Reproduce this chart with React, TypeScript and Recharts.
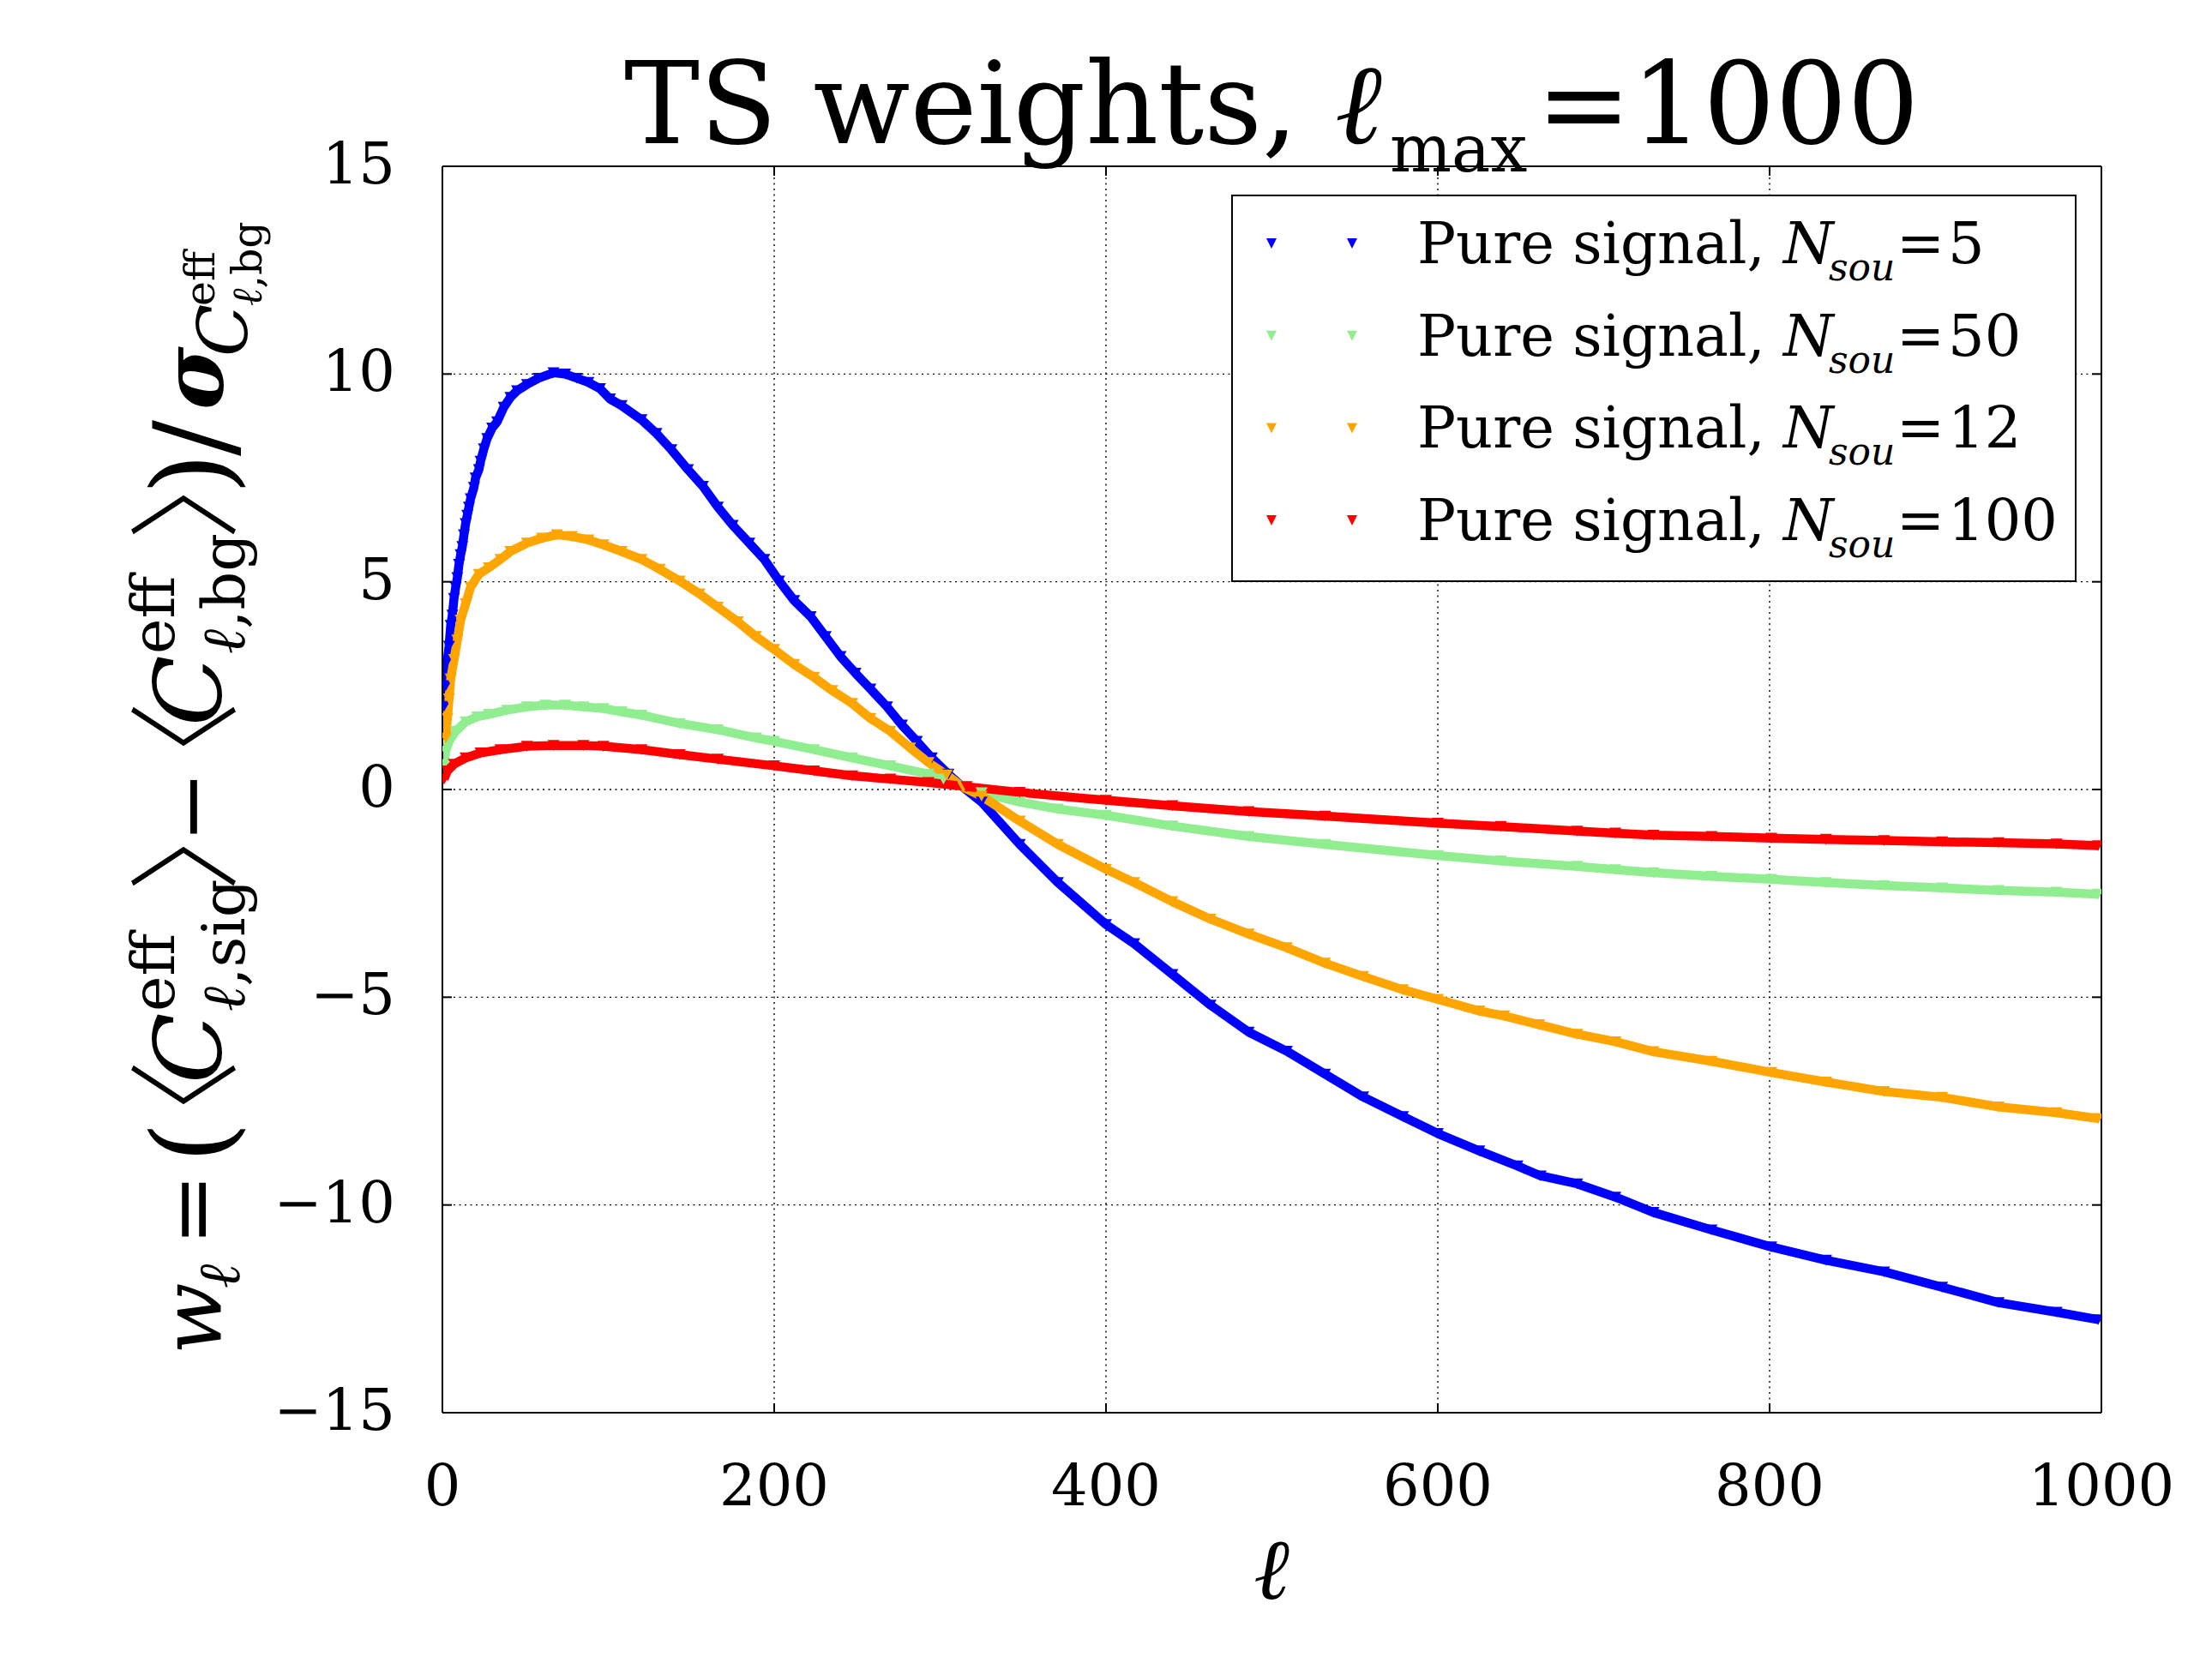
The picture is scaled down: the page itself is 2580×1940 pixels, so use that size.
import React from 'react';
import { ComposedChart, Line, XAxis, YAxis, CartesianGrid, Legend } from 'recharts';

// ---------- data ----------
const X_TICKS = [0, 200, 400, 600, 800, 1000];
const Y_TICKS = [-15, -10, -5, 0, 5, 10, 15];

const ELL_N5 = [1, 2, 3, 4, 5, 6, 7, 8, 9, 10, 11, 12, 13, 14, 15, 16, 17, 19, 20, 22, 23, 25, 27, 30, 33, 37, 41, 45, 51, 58, 67, 74, 81, 88, 95, 101, 108, 120, 129, 138, 148, 157, 166, 175, 185, 194, 203, 212, 222, 231, 240, 249, 258, 268, 277, 286, 295, 305, 314, 325, 348, 371, 400, 417, 440, 463, 486, 509, 532, 555, 579, 600, 625, 648, 662, 684, 707, 730, 765, 801, 834, 869, 904, 938, 973, 998];
const W_N5 = [2.0, 2.5, 3.1, 3.45, 3.95, 4.2, 4.6, 4.87, 5.1, 5.42, 5.65, 5.85, 6.13, 6.4, 6.6, 6.8, 7.0, 7.27, 7.5, 7.7, 7.9, 8.2, 8.45, 8.7, 8.85, 9.2, 9.44, 9.6, 9.75, 9.9, 10.03, 10.0, 9.9, 9.8, 9.65, 9.4, 9.24, 8.9, 8.57, 8.18, 7.7, 7.3, 6.8, 6.36, 5.93, 5.54, 5.02, 4.55, 4.16, 3.68, 3.2, 2.8, 2.42, 1.99, 1.55, 1.16, 0.76, 0.37, 0.05, -0.3, -1.32, -2.24, -3.25, -3.71, -4.45, -5.19, -5.84, -6.3, -6.85, -7.4, -7.87, -8.28, -8.7, -9.06, -9.3, -9.49, -9.81, -10.18, -10.6, -11.01, -11.33, -11.61, -11.98, -12.35, -12.58, -12.76];

const ELL_N50 = [1, 2, 4, 8, 14, 21, 28, 39, 51, 62, 74, 85, 97, 108, 120, 143, 166, 189, 200, 224, 247, 270, 293, 302, 314, 325, 348, 371, 400, 440, 486, 532, 600, 638, 684, 707, 730, 765, 801, 834, 869, 904, 938, 973, 998];
const W_N50 = [0.61, 0.92, 1.16, 1.4, 1.63, 1.75, 1.81, 1.91, 1.99, 2.03, 2.03, 1.99, 1.95, 1.87, 1.79, 1.59, 1.44, 1.24, 1.16, 0.96, 0.76, 0.57, 0.37, 0.25, 0.07, -0.08, -0.3, -0.47, -0.62, -0.88, -1.13, -1.32, -1.59, -1.72, -1.85, -1.93, -2.0, -2.09, -2.16, -2.24, -2.31, -2.37, -2.43, -2.47, -2.52];

const ELL_N12 = [2, 3, 4, 5, 7, 9, 11, 14, 17, 22, 28, 35, 41, 51, 60, 69, 78, 88, 97, 108, 120, 131, 143, 155, 166, 178, 189, 200, 212, 224, 235, 247, 258, 270, 282, 293, 304, 314, 325, 348, 371, 400, 417, 440, 463, 486, 509, 532, 555, 579, 600, 625, 640, 661, 684, 707, 730, 765, 801, 834, 869, 904, 938, 973, 998];
const W_N12 = [1.24, 1.71, 2.18, 2.66, 3.13, 3.6, 4.08, 4.47, 4.87, 5.18, 5.34, 5.54, 5.73, 5.93, 6.05, 6.13, 6.09, 6.01, 5.89, 5.73, 5.54, 5.3, 5.02, 4.71, 4.39, 4.04, 3.68, 3.37, 3.01, 2.7, 2.38, 2.07, 1.71, 1.4, 1.0, 0.65, 0.35, 0.05, -0.16, -0.76, -1.32, -1.92, -2.24, -2.7, -3.12, -3.48, -3.81, -4.18, -4.5, -4.82, -5.05, -5.33, -5.45, -5.66, -5.89, -6.07, -6.31, -6.54, -6.81, -7.04, -7.27, -7.41, -7.64, -7.78, -7.92];

const ELL_N100 = [1, 3, 7, 14, 23, 35, 51, 67, 85, 97, 120, 143, 166, 200, 224, 247, 270, 293, 316, 348, 400, 440, 486, 532, 600, 638, 684, 707, 730, 765, 801, 834, 869, 904, 938, 973, 998];
const W_N100 = [0.25, 0.45, 0.61, 0.76, 0.88, 0.96, 1.04, 1.06, 1.06, 1.04, 0.96, 0.84, 0.73, 0.57, 0.45, 0.33, 0.25, 0.17, 0.07, -0.07, -0.26, -0.39, -0.53, -0.64, -0.81, -0.89, -1.0, -1.05, -1.1, -1.13, -1.17, -1.2, -1.23, -1.26, -1.28, -1.31, -1.35];

const SERIES_KEYS = ['N5', 'N50', 'N12', 'N100'];
const N_LABELS = ['5', '50', '12', '100'];
const COLORS = ['#0000ff', '#90ee90', '#ffa500', '#ff0000'];
const ELLS = [ELL_N5, ELL_N50, ELL_N12, ELL_N100];
const WS = [W_N5, W_N50, W_N12, W_N100];

const seriesData = ELLS.map((ells, i) => ells.map((l, j) => ({ l, w: WS[i][j] })));

// ---------- styling ----------
const CW = 2580;
const CH = 1940;
const FONT = "'DejaVu Serif', serif";
const CJK = "'Noto Sans CJK JP', 'Noto Sans CJK SC', sans-serif";
const TICK_LEN = 11;
const TICK_FS = 67;

const fmtTick = (v: number) => (v < 0 ? `\u2212${Math.abs(v)}` : `${v}`);

const LeftTick = (p: any) => (
  <g>
    <line x1={p.x} y1={p.y} x2={p.x + TICK_LEN} y2={p.y} stroke="#000" strokeWidth={2} />
    <text x={p.x - 55} y={p.y + 20} textAnchor="end" fontFamily={FONT} fontSize={TICK_FS} fill="#000">
      {fmtTick(p.payload.value)}
    </text>
  </g>
);
const RightTick = (p: any) => (
  <line x1={p.x - TICK_LEN} y1={p.y} x2={p.x} y2={p.y} stroke="#000" strokeWidth={2} />
);
const BottomTick = (p: any) => (
  <g>
    <line x1={p.x} y1={p.y - TICK_LEN} x2={p.x} y2={p.y} stroke="#000" strokeWidth={2} />
    <text x={p.x} y={p.y + 108} textAnchor="middle" fontFamily={FONT} fontSize={TICK_FS} fill="#000">
      {fmtTick(p.payload.value)}
    </text>
  </g>
);
const TopTick = (p: any) => (
  <line x1={p.x} y1={p.y} x2={p.x} y2={p.y + TICK_LEN} stroke="#000" strokeWidth={2} />
);

const triangle = (color: string, r: number) => (p: any) => {
  const { cx, cy, index } = p;
  if (cx == null || cy == null) return <g key={`e${index}`} />;
  return (
    <path
      key={`t${index}`}
      d={`M${cx - r},${cy - r * 0.9}L${cx + r},${cy - r * 0.9}L${cx},${cy + r * 0.9}Z`}
      fill={color}
      stroke="none"
    />
  );
};

const LegendBox = (props: any) => {
  const payload: any[] = props.payload || [];
  return (
    <svg width={986} height={452} style={{ display: 'block', overflow: 'visible' }}>
      <rect x={1} y={1} width={984} height={450} fill="#fff" stroke="#000" strokeWidth={2} />
      {SERIES_KEYS.map((key, i) => {
        const item = payload.find((it: any) => it.dataKey === key || it.value === key);
        const color = (item && item.color) || COLORS[i];
        const base = 80 + i * 107.7;
        const my = base - 23;
        const tri = (mx: number) =>
          `M${mx - 6},${my - 6}L${mx + 6},${my - 6}L${mx},${my + 6}Z`;
        return (
          <g key={key}>
            <path d={tri(47)} fill={color} />
            <path d={tri(141)} fill={color} />
            <text x={217} y={base} fontFamily={FONT} fontSize={67} fill="#000">Pure signal,</text>
            <text x={644} y={base} fontFamily={FONT} fontSize={67} fontStyle="italic" fill="#000">N</text>
            <text x={697} y={base + 20} fontFamily={FONT} fontSize={44} fontStyle="italic" fill="#000">sou</text>
            <text x={776} y={base} fontFamily={FONT} fontSize={67} fill="#000">=</text>
            <text x={836} y={base} fontFamily={FONT} fontSize={67} fill="#000">{N_LABELS[i]}</text>
          </g>
        );
      })}
    </svg>
  );
};

const YLabel = () => {
  const T = (u: number, v: number, s: number, content: React.ReactNode, opts: any = {}) => (
    <text x={u} y={v} fontSize={s} fontFamily={opts.f || FONT} fontStyle={opts.it ? 'italic' : 'normal'} fontWeight={opts.w || (opts.b ? 'bold' : 'normal')} fill="#000">
      {content}
    </text>
  );
  return (
    <g transform="translate(257,0) rotate(-90)">
      {T(-1580, 0, 98, 'w', { it: true })}
      {T(-1503, 22, 68, '\u2113', { it: true })}
      {T(-1453, 0, 100, '=')}
      {T(-1357, 10, 125, '(')}
      {T(-1368, 7, 132, '\u3008', { f: CJK, w: 300 })}
      {T(-1264, 0, 108, 'C', { it: true })}
      {T(-1180, -54, 70, 'eff')}
      {T(-1180, 28, 70, <><tspan fontStyle="italic">{'\u2113'}</tspan>,sig</>)}
      {T(-1040, 7, 132, '\u3009', { f: CJK, w: 300 })}
      {T(-983, 0, 100, '\u2212')}
      {T(-950, 7, 132, '\u3008', { f: CJK, w: 300 })}
      {T(-847, 0, 108, 'C', { it: true })}
      {T(-763, -54, 70, 'eff')}
      {T(-763, 28, 70, <><tspan fontStyle="italic">{'\u2113'}</tspan>,bg</>)}
      {T(-630, 7, 132, '\u3009', { f: CJK, w: 300 })}
      {T(-577, 10, 125, ')')}
      {T(-532, 12, 125, '/')}
      {T(-478, 3, 100, '\u03C3', { it: true, b: true })}
      {T(-416, 31, 80, 'C', { it: true })}
      {T(-357, -7, 49, 'eff')}
      {T(-357, 48, 49, <><tspan fontStyle="italic">{'\u2113'}</tspan>,bg</>)}
    </g>
  );
};

export default function App() {
  return (
    <div style={{ position: 'absolute', left: 0, top: 0, width: CW, height: CH, background: '#fff' }}>
      <ComposedChart width={CW} height={CH} margin={{ top: 0, right: 0, bottom: 0, left: 0 }}>
        <CartesianGrid xAxisId="b" yAxisId="l" stroke="#000" strokeWidth={1.4} strokeDasharray="2 4.5" fill="none" />
        <XAxis
          xAxisId="b" type="number" dataKey="l" domain={[0, 1000]} ticks={X_TICKS} interval={0}
          orientation="bottom" height={292} allowDataOverflow
          axisLine={{ stroke: '#000', strokeWidth: 2 }} tickLine={false} tickSize={0} tickMargin={0}
          tick={BottomTick}
        />
        <XAxis
          xAxisId="t" type="number" dataKey="l" domain={[0, 1000]} ticks={X_TICKS} interval={0}
          orientation="top" height={194} allowDataOverflow
          axisLine={{ stroke: '#000', strokeWidth: 2 }} tickLine={false} tickSize={0} tickMargin={0}
          tick={TopTick}
        />
        <YAxis
          yAxisId="l" type="number" domain={[-15, 15]} ticks={Y_TICKS} interval={0}
          orientation="left" width={516} allowDataOverflow
          axisLine={{ stroke: '#000', strokeWidth: 2 }} tickLine={false} tickSize={0} tickMargin={0}
          tick={LeftTick}
        />
        <YAxis
          yAxisId="r" type="number" domain={[-15, 15]} ticks={Y_TICKS} interval={0}
          orientation="right" width={129} allowDataOverflow
          axisLine={{ stroke: '#000', strokeWidth: 2 }} tickLine={false} tickSize={0} tickMargin={0}
          tick={RightTick}
        />
        {SERIES_KEYS.map((key, i) => (
          <Line
            key={key}
            xAxisId="b"
            yAxisId="l"
            data={seriesData[i]}
            dataKey="w"
            name={key}
            type="linear"
            stroke={COLORS[i]}
            strokeWidth={10.5}
            strokeLinejoin="round"
            dot={triangle(COLORS[i], 7)}
            activeDot={false}
            isAnimationActive={false}
          />
        ))}
        <Legend
          layout="horizontal"
          verticalAlign="middle"
          align="center"
          content={LegendBox}
          wrapperStyle={{ left: 1436, top: 227, width: 986, height: 452 }}
        />
      </ComposedChart>
      <svg
        width={CW}
        height={CH}
        style={{ position: 'absolute', left: 0, top: 0, pointerEvents: 'none' }}
      >
        <text x={728} y={167} fontFamily={FONT} fontSize={132} fill="#000">TS weights,</text>
        <text x={1557} y={167} fontFamily={FONT} fontSize={132} fontStyle="italic" fill="#000">{'\u2113'}</text>
        <text x={1621} y={200} fontFamily={FONT} fontSize={76} fill="#000">max</text>
        <text x={1792} y={167} fontFamily={FONT} fontSize={132} fill="#000">=1000</text>
        <text x={1483} y={1865} textAnchor="middle" fontFamily={FONT} fontSize={100} fontStyle="italic" fill="#000">{'\u2113'}</text>
        <YLabel />
      </svg>
    </div>
  );
}
